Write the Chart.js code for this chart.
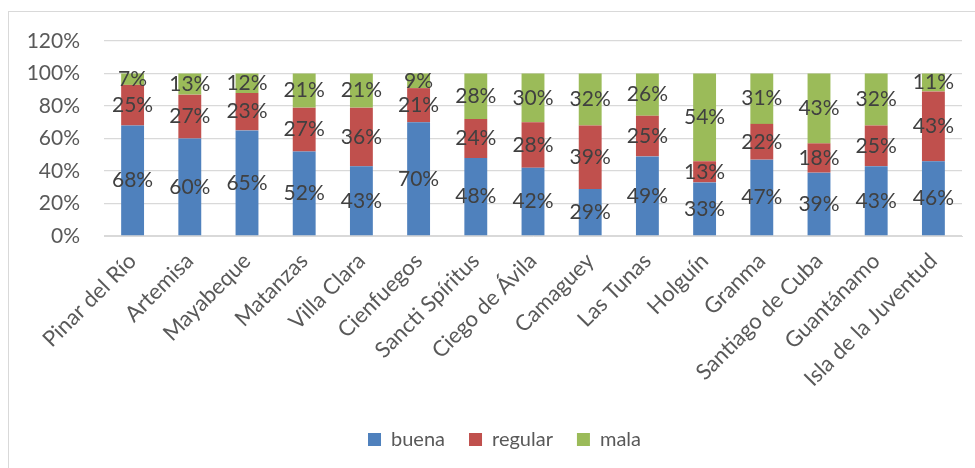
<!DOCTYPE html>
<html>
<head>
<meta charset="utf-8">
<script src="https://cdn.jsdelivr.net/npm/chart.js@4/dist/chart.umd.min.js"></script>
<style>
  html, body { margin: 0; padding: 0; background: #fff; overflow: hidden; width: 975px; height: 468px; }
  #frame { position: absolute; left: 8px; top: 11px; width: 1000px; height: 500px; border: 1px solid #d9d9d9; }
  #wrap { position: absolute; left: 0; top: 0; width: 996px; height: 457px; }
</style>
</head>
<body>
<div id="frame">
  <div id="wrap"><canvas id="canvas"></canvas></div>
</div>
<script>
const provincias = ["Pinar del Río", "Artemisa", "Mayabeque", "Matanzas", "Villa Clara", "Cienfuegos",
    "Sancti Spíritus", "Ciego de Ávila", "Camaguey", "Las Tunas", "Holguín", "Granma",
    "Santiago de Cuba", "Guantánamo", "Isla de la Juventud"];
const buena   = [68, 60, 65, 52, 43, 70, 48, 42, 29, 49, 33, 47, 39, 43, 46];
const regular = [25, 27, 23, 27, 36, 21, 24, 28, 39, 25, 13, 22, 18, 25, 43];
const mala    = [7, 13, 12, 21, 21, 9, 28, 30, 32, 26, 54, 31, 43, 32, 11];
const yTicks  = [0, 20, 40, 60, 80, 100, 120];

const FONT = "Lato";

// etiquetas de valor en el centro de cada segmento
const valueLabels = {
    id: "valueLabels",
    afterDatasetsDraw(chart) {
        const ctx = chart.ctx;
        ctx.save();
        ctx.font = "21px " + FONT;
        ctx.fillStyle = "#404040";
        ctx.textAlign = "center";
        ctx.textBaseline = "middle";
        chart.data.datasets.forEach(function (ds, i) {
            const meta = chart.getDatasetMeta(i);
            meta.data.forEach(function (bar, j) {
                const y = (bar.y + bar.base) / 2;
                ctx.fillText(ds.data[j] + "%", bar.x, y);
            });
        });
        ctx.restore();
    }
};

// la leyenda va centrada en todo el ancho, no solo en el area con padding
const legendShift = {
    id: "legendShift",
    afterLayout(chart) {
        if (chart.legend) {
            chart.legend.left += 19;
            chart.legend.right += 19;
        }
    }
};

let ctx = document.getElementById("canvas").getContext("2d");
const mychart = new Chart(ctx, {
    type: "bar",
    data: {
        labels: provincias,
        datasets: [
            { label: "buena", data: buena, backgroundColor: "#4F81BD" },
            { label: "regular", data: regular, backgroundColor: "#C0504D" },
            { label: "mala", data: mala, backgroundColor: "#9BBB59" }
        ]
    },
    options: {
        responsive: true,
        maintainAspectRatio: false,
        animation: false,
        barPercentage: 0.4,
        categoryPercentage: 1,
        layout: { padding: { top: 29, right: 43, left: 0, bottom: 9.5 } },
        scales: {
            x: {
                stacked: true,
                grid: { display: false },
                border: { color: "#d9d9d9" },
                ticks: {
                    color: "#595959",
                    font: { family: FONT, size: 22 },
                    maxRotation: 45,
                    minRotation: 45,
                    autoSkip: false,
                    padding: 4
                },
                afterFit: function (scale) { scale.height = 169.5; }
            },
            y: {
                stacked: true,
                min: 0,
                max: 120,
                afterBuildTicks: function (scale) {
                    scale.ticks = yTicks.map(function (v) { return { value: v }; });
                },
                grid: { color: "#d9d9d9", lineWidth: 1.3, drawTicks: true, tickLength: 20, tickColor: "rgba(0,0,0,0)" },
                border: { display: false },
                ticks: {
                    color: "#595959",
                    font: { family: FONT, size: 21 },
                    padding: 4,
                    callback: function (v) { return v + "%"; }
                },
                afterFit: function (scale) { scale.width = 95; }
            }
        },
        plugins: {
            legend: {
                position: "bottom",
                labels: {
                    color: "#595959",
                    font: { family: FONT, size: 20 },
                    boxWidth: 13,
                    boxHeight: 13,
                    padding: 24
                }
            },
            tooltip: { enabled: false }
        }
    },
    plugins: [valueLabels, legendShift]
});
</script>
</body>
</html>
